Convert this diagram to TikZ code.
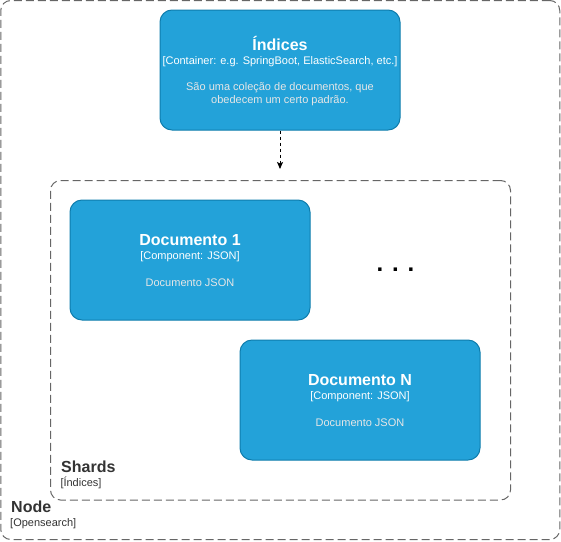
\documentclass[tikz,border=0pt]{standalone}
\usepackage{fontspec}
\setmainfont{Liberation Sans}
\usetikzlibrary{arrows.meta}
\definecolor{c4fill}{HTML}{23A2D9}
\definecolor{c4stroke}{HTML}{0E7DAD}
\definecolor{desccol}{HTML}{E6E6E6}
\definecolor{bndcol}{HTML}{666666}
\definecolor{bndtxt}{HTML}{333333}
\begin{document}
\begin{tikzpicture}[x=1pt,y=-1pt,
  c4box/.style={draw=c4stroke, fill=c4fill, rounded corners=12pt, line width=1pt,
    minimum width=240pt, minimum height=120pt, inner sep=0pt},
  boundary/.style={draw=bndcol, dash pattern=on 8pt off 4pt, line width=1pt,
    rounded corners=10pt, inner sep=0pt},
  ttl/.style={text=white, font=\bfseries\fontsize{16}{19}\selectfont, anchor=base, inner sep=0pt},
  tech/.style={text=white, font=\fontsize{11}{13}\selectfont, anchor=base, inner sep=0pt},
  dsc/.style={text=desccol, font=\fontsize{11}{13}\selectfont, anchor=base, inner sep=0pt},
  bttl/.style={text=bndtxt, font=\bfseries\fontsize{16}{19}\selectfont, anchor=base west, inner sep=0pt},
  btech/.style={text=bndtxt, font=\fontsize{11}{13}\selectfont, anchor=base west, inner sep=0pt},
  flow/.style={draw=black, line width=1pt, dash pattern=on 3pt off 3pt,
    -{Stealth[length=7pt,width=6pt,inset=1.5pt]}},
]
\useasboundingbox (0,0) rectangle (561,541);

% outer boundary
\node[boundary, minimum width=559pt, minimum height=539pt] (nodeb) at (280.25,270) {};
\node[bttl] (nodeT) at (11,512.7) {Node};
\node[btech] (nodeS) at (10,526) {[Opensearch]};

% shards boundary
\node[boundary, minimum width=460pt, minimum height=319.5pt] (shards) at (280.5,340.25) {};
\node[bttl] (shardsT) at (61,472.3) {Shards};
\node[btech] (shardsS) at (60.3,486) {[Índices]};

% Indices
\node[c4box] (idx) at (280,70) {};
\node[ttl] (idxT) at (280,50) {Índices};
\node[tech] (idxS) at (280,64) {[Container: e.g. SpringBoot, ElasticSearch, etc.]};
\node[dsc] (idxD1) at (280,90.7) {São uma coleção de documentos, que};
\node[dsc] (idxD2) at (280,103.4) {obedecem um certo padrão.};

% Documento 1
\node[c4box] (doc1) at (190,260) {};
\node[ttl] (doc1T) at (190,245.7) {Documento 1};
\node[tech] (doc1S) at (190,259.3) {[Component: JSON]};
\node[dsc] (doc1D) at (190,286.7) {Documento JSON};

% Documento N
\node[c4box] (docN) at (360,400) {};
\node[ttl] (docNT) at (360,385.7) {Documento N};
\node[tech] (docNS) at (360,399.3) {[Component: JSON]};
\node[dsc] (docND) at (360,426.7) {Documento JSON};

% ellipsis
\node[text=black, font=\bfseries\fontsize{24}{28}\selectfont, anchor=base, inner sep=0pt] (dots) at (395.5,271) {. . .};

% arrow
\coordinate (arrEnd) at (280,169);
\draw[flow] (idx.south) -- (arrEnd);
\end{tikzpicture}
\end{document}
